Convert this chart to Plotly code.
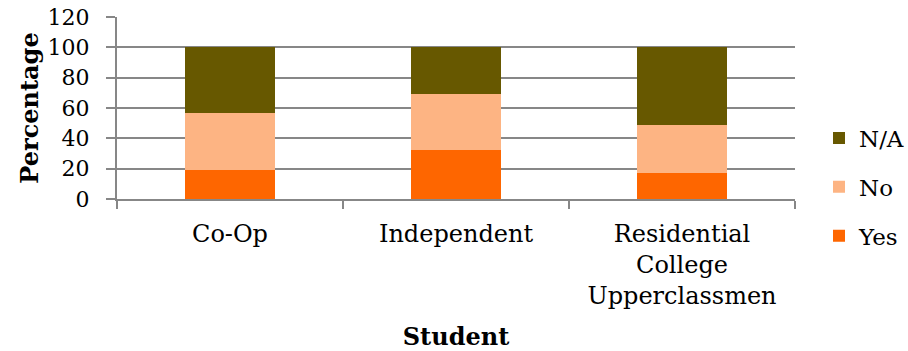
import plotly.graph_objects as go

categories = ["Co-Op", "Independent", "Residential<br>College<br>Upperclassmen"]
yes_vals = [19, 32, 17]
no_vals = [38, 37, 32]
na_vals = [43, 31, 51]
y_ticks = [0, 20, 40, 60, 80, 100, 120]

FONT = "DejaVu Serif"
GRID = "#878787"

fig = go.Figure()
series = [("Yes", yes_vals, "#FE6600", 3), ("No", no_vals, "#FDB483", 2), ("N/A", na_vals, "#675800", 1)]
for name, vals, col, rank in series:
    fig.add_trace(go.Bar(x=categories, y=vals, name=name, marker_color=col,
                         marker_line_width=0, legendgroup=name, legendrank=rank))

fig.update_layout(
    barmode="stack",
    bargap=0.6,
    width=908, height=351,
    margin=dict(l=117, r=113, t=17, b=152, autoexpand=False),
    plot_bgcolor="white", paper_bgcolor="white",
    font=dict(family=FONT, size=24, color="black"),
    showlegend=True,
    legend=dict(xref="container", x=819 / 908, xanchor="left",
                yref="container", y=1 - 187 / 351, yanchor="middle",
                traceorder="grouped", tracegroupgap=16,
                font=dict(size=23, family=FONT), bgcolor="rgba(0,0,0,0)"),
    xaxis=dict(
        showline=True, linecolor=GRID, linewidth=2,
        ticks="outside", tickson="boundaries", ticklen=8, tickcolor=GRID, tickwidth=2,
        tickfont=dict(size=24, family=FONT), ticklabelstandoff=12,
        title=dict(text="<b>Student</b>", font=dict(size=24, family=FONT), standoff=22),
    ),
    yaxis=dict(
        range=[0, 120], tickvals=y_ticks, ticktext=[str(v) for v in y_ticks],
        showgrid=True, gridcolor=GRID, gridwidth=2,
        showline=True, linecolor=GRID, linewidth=2,
        ticks="outside", ticklen=9, tickcolor=GRID, tickwidth=2,
        tickfont=dict(size=22, family=FONT), ticklabelstandoff=12,
        title=dict(text="<b>Percentage</b>", font=dict(size=24, family=FONT), standoff=2),
        zeroline=False,
    ),
)

fig.write_html("out.html")
